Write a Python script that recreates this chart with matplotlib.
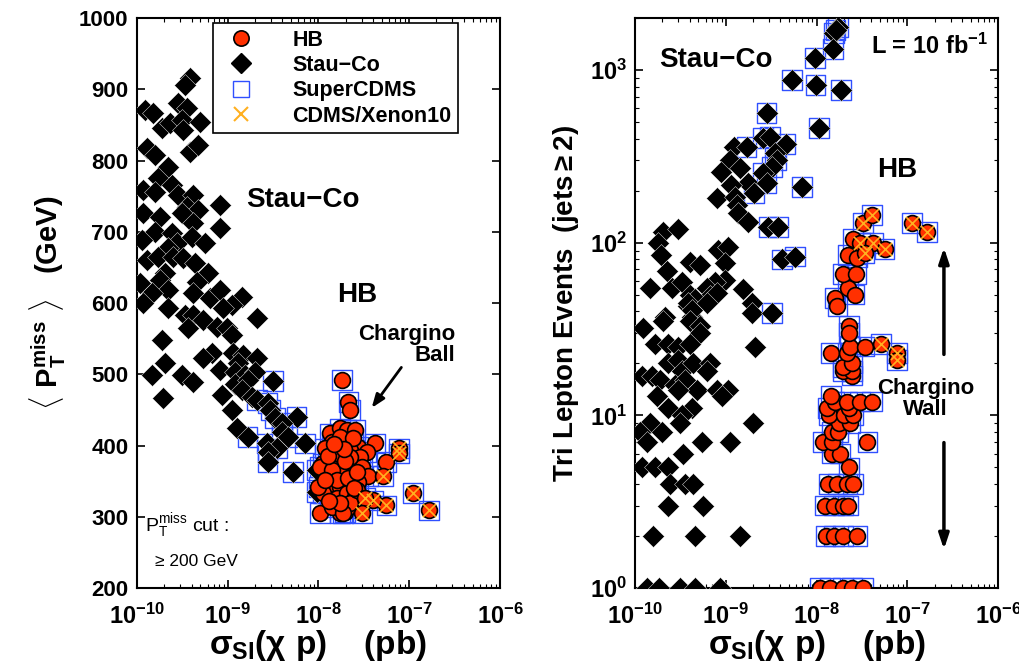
import numpy as np
import matplotlib
matplotlib.use('Agg')
from matplotlib import pyplot as plt
from matplotlib.lines import Line2D

plt.rcParams['font.family'] = ['Liberation Sans', 'DejaVu Sans']
plt.rcParams['font.weight'] = 'bold'
plt.rcParams['mathtext.fontset'] = 'custom'
plt.rcParams['mathtext.rm'] = 'Liberation Sans:bold'
plt.rcParams['mathtext.bf'] = 'Liberation Sans:bold'
plt.rcParams['mathtext.it'] = 'Liberation Sans'

# ---- left panel: <PT miss> vs sigma_SI (log10 sigma in pb, GeV)
stau_l_lx = [-9.42, -9.47, -9.91, -9.82, -9.55, -9.45, -9.72, -9.64, -9.50, -9.49, -9.31, -9.89,
             -9.80, -9.42, -9.33, -9.66, -9.77, -9.93, -9.80, -9.61, -9.55, -9.38, -9.45, -9.33,
             -9.09, -9.93, -9.75, -9.50, -9.38, -9.09, -9.80, -9.61, -9.94, -9.56, -9.39, -9.25,
             -9.66, -9.89, -9.77, -9.60, -9.49, -9.36, -9.69, -9.22, -9.97, -9.75, -9.34, -9.66,
             -9.83, -9.38, -9.20, -9.09, -8.84, -9.93, -9.66, -8.95, -9.47, -9.38, -8.68, -9.27,
             -9.44, -9.12, -9.01, -8.95, -9.05, -9.72, -9.17, -9.27, -8.94, -8.83, -8.68, -9.69,
             -8.89, -9.83, -9.50, -9.38, -9.09, -8.92, -8.81, -8.70, -8.92, -8.78, -8.84, -9.06,
             -9.71, -8.73, -8.95, -8.90]
stau_l_p = [916, 906, 871, 867, 881, 874, 846, 853, 857, 843, 854, 818,
            808, 812, 822, 791, 775, 759, 756, 766, 752, 752, 735, 731,
            738, 726, 721, 726, 712, 705, 700, 698, 688, 684, 693, 684,
            677, 660, 665, 665, 663, 656, 642, 642, 628, 632, 630, 618,
            614, 614, 607, 618, 608, 600, 593, 597, 583, 583, 579, 576,
            565, 566, 565, 555, 593, 548, 530, 523, 530, 527, 523, 516,
            516, 499, 499, 489, 506, 503, 499, 503, 487, 492, 478, 471,
            467, 468, 450, 425]
# Stau-Co points inside SuperCDMS reach
stau_l_sq_lx = [-8.50, -8.68, -8.56, -8.53, -8.48, -8.24, -8.40, -8.40, -8.34, -8.78, -8.57,
                -8.46, -8.15, -8.56, -8.56, -8.28, -8.02, -8.02]
stau_l_sq_p = [491, 464, 460, 450, 439, 440, 432, 419, 412, 412, 403,
               396, 403, 391, 377, 363, 366, 335]
hb_l_lx = [-7.74, -7.67, -7.65, -7.25, -7.38, -7.98, -7.76, -7.71,
           -7.87, -7.76, -7.69, -7.60, -7.85, -7.69, -7.56, -7.47, -7.93, -7.76, -7.65, -7.54,
           -7.80, -7.95, -7.73, -7.63, -7.52, -7.91, -7.74, -7.62, -7.45, -7.89, -7.76, -7.65,
           -7.56, -7.95, -7.80, -7.69, -7.60, -7.85, -7.69, -7.65, -7.73, -8.00, -7.98, -7.76,
           -7.65, -7.85, -7.58, -7.76, -7.82, -7.71, -7.90, -7.62, -7.79, -7.67, -7.88, -7.58,
           -7.72, -7.83, -7.61, -7.93]
hb_l_p = [492, 461, 450, 377, 403, 305, 305, 307,
          417, 424, 422, 422, 405, 408, 398, 391, 396, 396, 394, 384,
          382, 375, 370, 370, 370, 359, 361, 359, 357, 345, 342, 347,
          349, 333, 326, 333, 328, 314, 312, 319, 305, 342, 370, 412,
          384, 366, 338, 319, 389, 378, 385, 410, 352, 355, 322, 363,
          395, 402, 340, 352]
# HB points also excluded by CDMS/Xenon10
hb_l_x_lx = [-7.11, -7.11, -7.29, -6.96, -6.78, -7.25, -7.40, -7.49, -7.52]
hb_l_x_p = [396, 389, 357, 333, 309, 316, 323, 326, 305]

# ---- right panel: tri-lepton events vs sigma_SI
stau_r_lx = [-8.91, -8.95, -8.84, -9.05, -8.75, -8.94, -9.10, -8.90, -8.88, -8.87, -8.75, -9.69,
             -9.53, -9.75, -9.09, -8.98, -9.71, -9.39, -9.28, -9.01, -9.65, -9.01, -9.12, -9.21,
             -9.17, -9.10, -9.83, -9.59, -9.48, -9.39, -9.34, -9.42, -8.81, -8.71, -8.71, -9.67,
             -9.37, -9.42, -9.21, -9.37, -9.69, -9.91, -9.39, -9.28, -9.28, -9.78, -9.64, -9.53,
             -9.39, -8.68, -9.64, -9.53, -9.48, -9.36, -9.17, -9.21, -9.92, -9.81, -9.72, -9.56,
             -9.45, -9.32, -9.10, -8.98, -9.04, -9.76, -9.53, -9.37, -9.64, -9.48, -9.50, -9.83,
             -9.70, -9.94, -9.87, -8.70, -9.26, -8.95, -9.47, -9.92, -9.78, -9.64, -9.61, -9.45,
             -9.36, -9.64, -9.25, -9.80, -9.34, -8.84, -9.87, -9.74, -9.50, -9.34, -9.06]
stau_r_n = [357, 300, 270, 257, 222, 215, 181, 183, 166, 148, 132, 116,
            120, 100, 91, 94, 85, 77, 74, 76, 69, 61, 59, 55,
            49, 51, 55, 55, 59, 50, 47, 43, 54, 45, 39, 37,
            37, 45, 45, 41, 35, 32, 35, 33, 30, 26, 26, 25,
            26, 25, 20, 21, 18, 20, 20, 18, 17, 17, 16, 15,
            16, 14, 14, 14, 13, 13, 14, 11, 11, 10, 9, 9,
            8, 8, 7, 9, 7, 7, 6, 5, 5, 5, 4, 4,
            4, 3, 3, 2, 2, 2, 1, 1, 1, 1, 1]
stau_r_sq_lx = [-7.76, -7.81, -7.79, -7.82, -8.02, -8.27, -8.01, -7.73, -8.55, -7.97, -8.59, -8.51,
                -8.77, -8.34, -8.46, -8.44, -8.49, -8.59, -8.55, -8.16, -8.69, -8.53, -8.42, -8.38,
                -8.24, -8.49]
stau_r_sq_n = [1780, 1640, 1700, 1320, 1170, 875, 820, 765, 565, 460, 405, 410,
               357, 373, 330, 300, 275, 253, 222, 210, 194, 123, 123, 80,
               83, 39]
hb_r_lx = [-7.96, -7.85, -7.71, -7.61, -7.49, -7.90, -7.81, -7.71, -7.55, -7.91, -7.81, -7.71,
           -7.65, -7.87, -7.77, -7.66, -7.60, -7.64, -7.83, -7.74, -7.93, -7.83, -7.44, -7.83,
           -7.76, -7.75, -7.63, -7.86, -7.70, -7.60, -7.88, -7.64, -7.80, -7.66, -7.52, -7.39,
           -7.84, -7.61, -7.71, -7.61, -7.71, -7.61, -7.84, -7.66, -7.63, -7.47, -7.64, -7.64,
           -7.80, -7.77, -7.65, -7.58, -7.71, -7.56, -7.65, -7.55, -7.60]
hb_r_n = [1, 1, 1, 1, 1, 2, 2, 2, 2, 3, 3, 3,
          3, 4, 4, 4, 4, 5, 6, 6, 7, 7, 7, 8,
          8, 9, 9, 10, 10, 10, 11, 11, 12, 12, 12, 12,
          13, 17, 18, 18, 19, 20, 23, 23, 25, 25, 33, 30,
          48, 43, 55, 50, 66, 66, 85, 82, 105]
hb_r_x_lx = [-7.52, -7.38, -7.47, -7.25, -7.49, -7.39, -6.95, -6.78, -7.29, -7.11, -7.11]
hb_r_x_n = [100, 100, 87, 92, 130, 145, 130, 115, 26, 23, 21]

RED = '#ff3000'
BLUE = '#3050ff'
XCOL = '#ffb020'


def draw(ax, s_lx, s_y, sq_lx, sq_y, h_lx, h_y, hx_lx, hx_y):
    s_x = 10.0 ** np.array(s_lx)
    sq_x = 10.0 ** np.array(sq_lx)
    h_x = 10.0 ** np.array(h_lx)
    hx_x = 10.0 ** np.array(hx_lx)
    # SuperCDMS squares around every point in reach
    ax.scatter(np.r_[sq_x, h_x, hx_x], np.r_[sq_y, h_y, hx_y], marker='s', s=200,
               facecolors='none', edgecolors=BLUE, linewidths=1.0, zorder=2)
    ax.scatter(np.r_[s_x, sq_x], np.r_[s_y, sq_y], marker='D', s=125, c='black',
               edgecolors='white', linewidths=0.3, zorder=3)
    ax.scatter(np.r_[h_x, hx_x], np.r_[h_y, hx_y], marker='o', s=130, c=RED,
               edgecolors='black', linewidths=1.2, zorder=4)
    ax.scatter(hx_x, hx_y, marker='x', s=90, c=XCOL, linewidths=1.2, zorder=5)
    ax.set_xscale('log')
    ax.set_xlim(1e-10, 1e-6)
    ax.tick_params(which='both', direction='in', top=True, right=True)
    ax.tick_params(which='major', length=6, width=1.2, labelsize=17, pad=6)
    ax.tick_params(axis='x', which='major', pad=11)
    ax.tick_params(which='minor', length=3, width=0.8)
    for sp in ax.spines.values():
        sp.set_linewidth(1.5)
    ax.set_xlabel(r'$\sigma_{\mathbf{SI}}(\chi\ \mathbf{p})$    (pb)', fontsize=24,
                  fontweight='bold', labelpad=0)


fig = plt.figure(figsize=(10.19, 6.63), dpi=100)
ax1 = fig.add_axes([0.1344, 0.1131, 0.3562, 0.8597])
ax2 = fig.add_axes([0.6232, 0.1131, 0.3562, 0.8597])

draw(ax1, stau_l_lx, stau_l_p, stau_l_sq_lx, stau_l_sq_p,
     hb_l_lx, hb_l_p, hb_l_x_lx, hb_l_x_p)
ax1.set_ylim(200, 1000)
ax1.set_yticks(np.arange(200, 1001, 100))
ax1.tick_params(axis='y', labelsize=16)
ax1.set_ylabel(r'$\langle\ \mathbf{P_T^{miss}}\ \rangle$   (GeV)', fontsize=21,
               fontweight='bold', labelpad=8)

draw(ax2, stau_r_lx, stau_r_n, stau_r_sq_lx, stau_r_sq_n,
     hb_r_lx, hb_r_n, hb_r_x_lx, hb_r_x_n)
ax2.set_yscale('log')
ax2.set_ylim(1, 2000)
ax2.tick_params(which='both', direction='in', top=True, right=True)
ax2.set_ylabel(r'Tri Lepton Events  (jets$\geq$2)', fontsize=20,
               fontweight='bold', labelpad=6)

# legend
handles = [
    Line2D([], [], ls='none', marker='o', ms=11, mfc=RED, mec='black', mew=1.2, label='HB'),
    Line2D([], [], ls='none', marker='D', ms=10, mfc='black', mec='black', label='Stau\u2212Co'),
    Line2D([], [], ls='none', marker='s', ms=11, mfc='none', mec=BLUE, mew=1.0, label='SuperCDMS'),
    Line2D([], [], ls='none', marker='x', ms=10, mec=XCOL, mew=1.5, label='CDMS/Xenon10'),
]
leg = ax1.legend(handles=handles, loc='upper left', bbox_to_anchor=(0.209, 0.991),
                 borderaxespad=0, fancybox=False, framealpha=1, edgecolor='black',
                 prop={'size': 15.5, 'weight': 'bold'}, handletextpad=1.4,
                 labelspacing=0.2, borderpad=0.3, handlelength=2.0)
leg.get_frame().set_linewidth(1.2)

# left annotations
ax1.text(0.457, 0.681, 'Stau\u2212Co', transform=ax1.transAxes, fontsize=20,
         fontweight='bold', ha='center', va='center')
ax1.text(0.606, 0.514, 'HB', transform=ax1.transAxes, fontsize=20,
         fontweight='bold', ha='center', va='center')
ax1.text(0.876, 0.426, 'Chargino\nBall', transform=ax1.transAxes, fontsize=16,
         fontweight='bold', ha='right', va='center', multialignment='right',
         linespacing=1.0)
ax1.annotate('', xy=(0.642, 0.312), xytext=(0.733, 0.391), xycoords='axes fraction',
             arrowprops=dict(arrowstyle='-|>,head_length=0.8,head_width=0.3',
                             color='black', lw=2))
ax1.text(0.022, 0.11, r'$\mathregular{P_T^{miss}}$ cut :', transform=ax1.transAxes,
         fontsize=14, fontweight='normal', ha='left', va='center')
ax1.text(0.05, 0.046, '\u2265 200 GeV', transform=ax1.transAxes,
         fontsize=12.5, fontweight='normal', ha='left', va='center')

# right annotations
ax2.text(0.223, 0.926, 'Stau\u2212Co', transform=ax2.transAxes, fontsize=20,
         fontweight='bold', ha='center', va='center')
ax2.text(0.81, 0.951, r'L = 10 fb$^{\mathbf{-1}}$', transform=ax2.transAxes, fontsize=17,
         fontweight='bold', ha='center', va='center')
ax2.text(0.722, 0.733, 'HB', transform=ax2.transAxes, fontsize=20,
         fontweight='bold', ha='center', va='center')
ax2.text(0.80, 0.332, 'Chargino\nWall', transform=ax2.transAxes, fontsize=16,
         fontweight='bold', ha='center', va='center', linespacing=1.0)
ax2.annotate('', xy=(0.851, 0.602), xytext=(0.851, 0.405), xycoords='axes fraction',
             arrowprops=dict(arrowstyle='-|>,head_length=0.9,head_width=0.3',
                             color='black', lw=2.5))
ax2.annotate('', xy=(0.851, 0.063), xytext=(0.851, 0.26), xycoords='axes fraction',
             arrowprops=dict(arrowstyle='-|>,head_length=0.9,head_width=0.3',
                             color='black', lw=2.5))

fig.savefig('out.png', dpi=100)
